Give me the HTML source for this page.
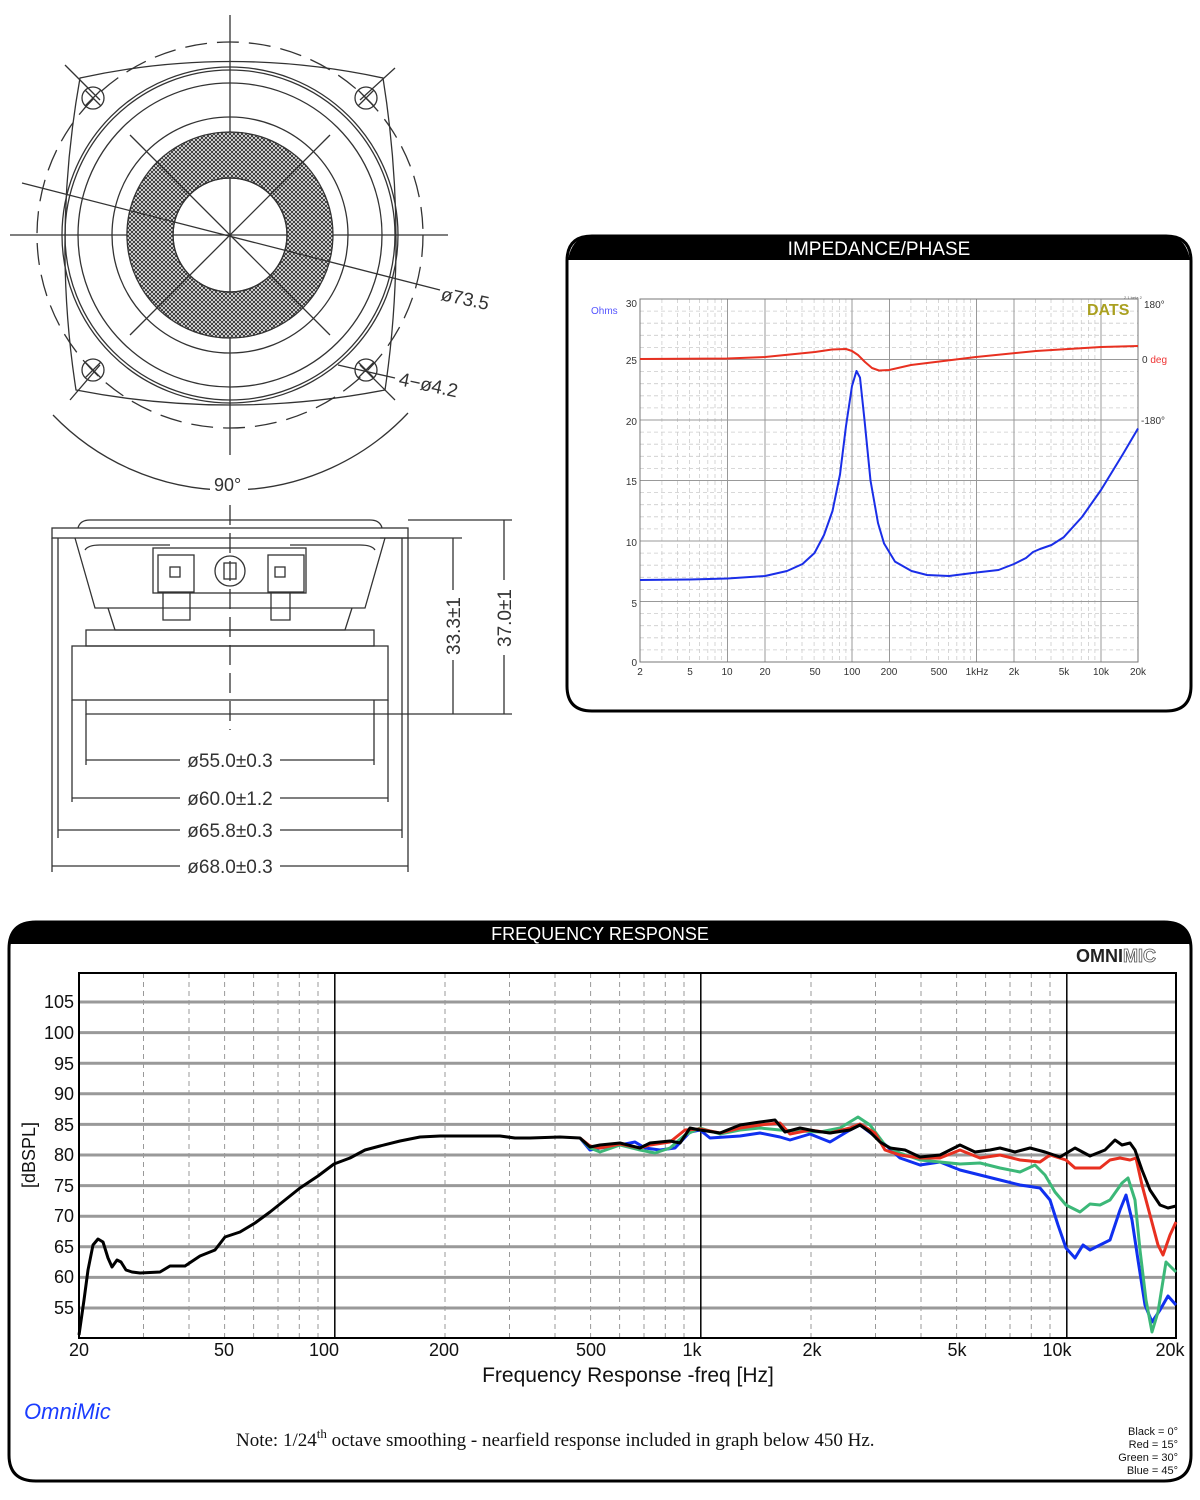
<!DOCTYPE html>
<html><head><meta charset="utf-8"><style>
html,body{margin:0;padding:0;background:#fff;width:1200px;height:1500px;overflow:hidden}
svg{display:block}
text{font-family:"Liberation Sans",sans-serif}
</style></head><body>
<svg width="1200" height="1500" viewBox="0 0 1200 1500" xmlns="http://www.w3.org/2000/svg">
<defs>
<pattern id="hatch" width="4" height="4" patternUnits="userSpaceOnUse">
<rect width="4" height="4" fill="#fff"/><path d="M0 0L4 4M4 0L0 4" stroke="#333" stroke-width="1"/>
</pattern>
</defs>

<!-- ===== Front view drawing ===== -->
<g fill="none" stroke="#333" stroke-width="1.3">
<line x1="230" y1="15" x2="230" y2="455"/>
<line x1="10" y1="235" x2="448" y2="235"/>
<circle cx="230" cy="235" r="193" stroke-dasharray="22,10"/>
<path d="M80 78 Q230 45 383 78 Q408 235 385 390 Q230 420 76 390 Q52 235 80 78 Z"/>
<line x1="65" y1="65" x2="100" y2="100"/><line x1="395" y1="68" x2="360" y2="100"/>
<line x1="70" y1="400" x2="100" y2="365"/><line x1="395" y1="400" x2="360" y2="365"/>
<circle cx="230" cy="235" r="168"/><circle cx="230" cy="235" r="165"/>
<circle cx="230" cy="235" r="152"/><circle cx="230" cy="235" r="118"/>
<path d="M230 132 A103 103 0 1 1 229.9 132 Z M230 178 A57 57 0 1 0 230.1 178 Z" fill="url(#hatch)" fill-rule="evenodd"/>
<circle cx="230" cy="235" r="57"/>
<line x1="130" y1="135" x2="330" y2="335"/><line x1="330" y1="135" x2="130" y2="335"/>
<line x1="22" y1="183" x2="440" y2="290"/>
<circle cx="93" cy="98" r="11"/><circle cx="366" cy="98" r="11"/><circle cx="93" cy="370" r="11"/><circle cx="366" cy="370" r="11"/>
<path d="M85 90L101 106M101 90L85 106M358 90L374 106M374 90L358 106M85 362L101 378M101 362L85 378M358 362L374 378M374 362L358 378"/>
<path d="M53 415 A245 245 0 0 0 408 413"/>
<line x1="338" y1="365" x2="395" y2="378"/>
</g>
<text x="440" y="300" font-size="19" fill="#333" transform="rotate(12 440 300)">ø73.5</text>
<text x="398" y="385" font-size="19" fill="#333" transform="rotate(12 398 385)">4−ø4.2</text>
<rect x="210" y="474" width="38" height="20" fill="#fff"/>
<text x="214" y="491" font-size="18" fill="#333">90°</text>

<!-- ===== Side view ===== -->
<g fill="none" stroke="#333" stroke-width="1.3">
<path d="M78 528 Q80 520 90 520 L370 520 Q380 520 382 528"/>
<rect x="52" y="528" width="356" height="10"/>
<path d="M75 538 L95 608 L365 608 L385 538"/>
<path d="M85 550 Q88 545 100 545 L170 545 M290 545 L360 545 Q372 545 375 550"/>
<rect x="153" y="548" width="153" height="45"/>
<rect x="158" y="555" width="36" height="37"/><rect x="268" y="555" width="36" height="37"/>
<rect x="170" y="567" width="10" height="10"/><rect x="275" y="567" width="10" height="10"/>
<circle cx="230" cy="571" r="15"/><rect x="224" y="563" width="12" height="16"/>
<path d="M163 592 L163 620 L190 620 L190 592 M271 592 L271 620 L290 620 L290 592"/>
<path d="M108 608 L115 630 L345 630 L352 608"/>
<rect x="86" y="630" width="288" height="16"/>
<rect x="72" y="646" width="316" height="54"/>
<path d="M86 700 L86 714 L374 714 L374 700"/>
<line x1="230" y1="505" x2="230" y2="730" stroke-dasharray="20,8"/>
<line x1="52" y1="538" x2="52" y2="872"/><line x1="408" y1="538" x2="408" y2="872"/>
<line x1="58" y1="538" x2="58" y2="838"/><line x1="402" y1="538" x2="402" y2="838"/>
<line x1="72" y1="700" x2="72" y2="802"/><line x1="388" y1="700" x2="388" y2="802"/>
<line x1="86" y1="714" x2="86" y2="765"/><line x1="374" y1="714" x2="374" y2="765"/>
<line x1="86" y1="760" x2="374" y2="760"/><line x1="72" y1="798" x2="388" y2="798"/>
<line x1="58" y1="830" x2="402" y2="830"/><line x1="52" y1="866" x2="408" y2="866"/>
<line x1="380" y1="538" x2="462" y2="538"/><line x1="408" y1="520" x2="512" y2="520"/>
<line x1="374" y1="714" x2="512" y2="714"/>
<line x1="453" y1="538" x2="453" y2="714"/><line x1="504" y1="520" x2="504" y2="714"/>
</g>
<g font-size="19" fill="#333" text-anchor="middle">
<rect x="180" y="750" width="100" height="20" fill="#fff"/><text x="230" y="767">ø55.0±0.3</text>
<rect x="180" y="788" width="100" height="20" fill="#fff"/><text x="230" y="805">ø60.0±1.2</text>
<rect x="180" y="820" width="100" height="20" fill="#fff"/><text x="230" y="837">ø65.8±0.3</text>
<rect x="180" y="856" width="100" height="20" fill="#fff"/><text x="230" y="873">ø68.0±0.3</text>
<rect x="443" y="590" width="20" height="70" fill="#fff"/><text transform="translate(460 626) rotate(-90)">33.3±1</text>
<rect x="494" y="580" width="20" height="75" fill="#fff"/><text transform="translate(511 618) rotate(-90)">37.0±1</text>
</g>

<!-- ===== Impedance box ===== -->
<path d="M592 236 L1166 236 Q1191 236 1191 261 L1191 686 Q1191 711 1166 711 L592 711 Q567 711 567 686 L567 261 Q567 236 592 236 Z" fill="#fff" stroke="#000" stroke-width="3"/>
<path d="M592 236 L1166 236 Q1186 236 1190 260 L568 260 Q572 236 592 236 Z" fill="#000"/>
<text x="879" y="255" font-size="19" fill="#fff" text-anchor="middle">IMPEDANCE/PHASE</text>
<g stroke="#ccc" stroke-width="0.8" stroke-dasharray="4,3">
<path d="M640 311.1H1138M640 323.2H1138M640 335.3H1138M640 347.4H1138M640 371.6H1138M640 383.7H1138M640 395.8H1138M640 407.9H1138M640 432.1H1138M640 444.2H1138M640 456.3H1138M640 468.4H1138M640 492.6H1138M640 504.7H1138M640 516.8H1138M640 528.9H1138M640 553.1H1138M640 565.2H1138M640 577.3H1138M640 589.4H1138M640 613.6H1138M640 625.7H1138M640 637.8H1138M640 649.9H1138"/>
<path d="M661.9 299V662M677.5 299V662M689.6 299V662M699.4 299V662M707.8 299V662M715 299V662M721.4 299V662M786.4 299V662M802 299V662M814.1 299V662M823.9 299V662M832.3 299V662M839.5 299V662M845.9 299V662M910.9 299V662M926.5 299V662M938.6 299V662M948.4 299V662M956.8 299V662M964 299V662M970.4 299V662M1035.4 299V662M1051 299V662M1063.1 299V662M1072.9 299V662M1081.3 299V662M1088.5 299V662M1094.9 299V662"/>
</g>
<g stroke="#999" stroke-width="1">
<path d="M640 359.5H1138M640 420H1138M640 480.5H1138M640 541H1138M640 601.5H1138"/>
<path d="M727.5 299V662M852 299V662M976.5 299V662M1101 299V662M765 299V662M889.5 299V662M1014 299V662"/>
</g>
<rect x="640" y="299" width="498" height="363" fill="none" stroke="#777" stroke-width="1"/>
<g font-size="10" fill="#333">
<text x="637" y="307" text-anchor="end">30</text><text x="637" y="364" text-anchor="end">25</text>
<text x="637" y="425" text-anchor="end">20</text><text x="637" y="485" text-anchor="end">15</text>
<text x="637" y="546" text-anchor="end">10</text><text x="637" y="607" text-anchor="end">5</text>
<text x="637" y="666" text-anchor="end">0</text>
<g text-anchor="middle"><text x="640" y="675">2</text><text x="690" y="675">5</text><text x="727" y="675">10</text><text x="765" y="675">20</text><text x="815" y="675">50</text><text x="852" y="675">100</text><text x="889" y="675">200</text><text x="939" y="675">500</text><text x="977" y="675">1kHz</text><text x="1014" y="675">2k</text><text x="1064" y="675">5k</text><text x="1101" y="675">10k</text><text x="1138" y="675">20k</text></g>
<text x="1144" y="308">180°</text><text x="1142" y="363">0 <tspan fill="#e33">deg</tspan></text><text x="1141" y="424">-180°</text>
<text x="591" y="314" fill="#55f">Ohms</text>
</g>
<text x="1087" y="315" font-size="16" font-weight="bold" fill="#aaa020">DATS</text>
<text x="1124" y="299" font-size="4" fill="#555">2.1 beta 2</text>
<polyline fill="none" stroke="#e83020" stroke-width="2" stroke-linejoin="round" points="640,359 727,358.5 765,357 815,352 832,349.5 846,349 852,351 858,355 865,362 872,368 879,370.5 889,370 911,365 976,357 1036,351 1101,347 1138,346"/>
<polyline fill="none" stroke="#1a2ee8" stroke-width="2" stroke-linejoin="round" points="640,580 690,579.5 727.5,578.5 765,576 787,571 802.5,564 814.5,553 824,535 832.5,511 840,474.5 846,426 852,386 856.5,371 860,377.6 864.5,420 870.5,480.5 878,523 884,543.4 895,561.6 911.5,571 927,575 949,576 976.5,572.5 998.5,570 1014,564 1026,558 1033,552 1040,549 1051.5,545 1063.5,537.4 1082,517 1101,490 1123,454 1138,428.5"/>

<!-- ===== Frequency response box ===== -->
<path d="M36 922 L1164 922 Q1191 922 1191 949 L1191 1455 Q1191 1481 1164 1481 L36 1481 Q9 1481 9 1455 L9 949 Q9 922 36 922 Z" fill="#fff" stroke="#000" stroke-width="3"/>
<path d="M36 922 L1164 922 Q1186 922 1190 944 L10 944 Q14 922 36 922 Z" fill="#000"/>
<text x="600" y="940" font-size="18" fill="#fff" text-anchor="middle">FREQUENCY RESPONSE</text>
<text x="1076" y="962" font-size="18" font-weight="bold" fill="#222">OMNI<tspan fill="#fff" stroke="#555" stroke-width="0.8">MIC</tspan></text>
<g stroke="#999" stroke-width="1" stroke-dasharray="5,4">
<path d="M143.5 973V1338M189 973V1338M224.6 973V1338M253.6 973V1338M278 973V1338M299.3 973V1338M318 973V1338M445 973V1338M509.5 973V1338M555 973V1338M590.6 973V1338M619.6 973V1338M644 973V1338M665.3 973V1338M684 973V1338M811 973V1338M875.5 973V1338M921 973V1338M956.6 973V1338M985.6 973V1338M1010 973V1338M1031.3 973V1338M1050 973V1338"/>
</g>
<g stroke="#999" stroke-width="3">
<path d="M79 1308H1176M79 1277.4H1176M79 1246.8H1176M79 1216.2H1176M79 1185.6H1176M79 1155H1176M79 1124.4H1176M79 1093.8H1176M79 1063.2H1176M79 1032.6H1176M79 1002H1176"/>
</g>
<g stroke="#000" stroke-width="1.5"><path d="M334.8 973V1338M700.8 973V1338M1066.8 973V1338"/></g>
<rect x="79" y="973" width="1097" height="365" fill="none" stroke="#000" stroke-width="2"/>
<g font-size="18" fill="#111">
<g text-anchor="end"><text x="74" y="1008">105</text><text x="74" y="1039">100</text><text x="74" y="1070">95</text><text x="74" y="1100">90</text><text x="74" y="1131">85</text><text x="74" y="1161">80</text><text x="74" y="1192">75</text><text x="74" y="1222">70</text><text x="74" y="1253">65</text><text x="74" y="1283">60</text><text x="74" y="1314">55</text></g>
<g text-anchor="middle"><text x="79" y="1356">20</text><text x="224" y="1356">50</text><text x="324" y="1356">100</text><text x="444" y="1356">200</text><text x="591" y="1356">500</text><text x="692" y="1356">1k</text><text x="812" y="1356">2k</text><text x="957" y="1356">5k</text><text x="1057" y="1356">10k</text><text x="1170" y="1356">20k</text></g>
<text x="628" y="1382" font-size="21" text-anchor="middle">Frequency Response -freq [Hz]</text>
<text transform="translate(35 1155) rotate(-90)" text-anchor="middle">[dBSPL]</text>
</g>
<text x="24" y="1419" font-size="22" font-style="italic" fill="#1a3cff">OmniMic</text>
<text x="236" y="1446" font-size="19" fill="#111" style="font-family:'Liberation Serif',serif">Note: 1/24<tspan dy="-8" font-size="13">th</tspan><tspan dy="8"> octave smoothing - nearfield response included in graph below 450 Hz.</tspan></text>
<g font-size="11" fill="#111" text-anchor="end"><text x="1178" y="1435">Black = 0°</text><text x="1178" y="1448">Red = 15°</text><text x="1178" y="1461">Green = 30°</text><text x="1178" y="1474">Blue = 45°</text></g>

<g fill="none" stroke-width="3" stroke-linejoin="round">
<polyline stroke="#1030f0" points="580,1138 590,1150 600,1148 620,1145 635,1142 645,1148 660,1150 675,1148 690,1132 700,1130 710,1138 740,1136 760,1133 780,1137 790,1140 810,1134 830,1142 850,1130 860,1125 880,1140 900,1158 920,1165 940,1162 960,1170 980,1175 1000,1180 1020,1185 1040,1188 1050,1200 1058,1225 1066,1248 1075,1258 1083,1245 1090,1250 1100,1245 1110,1240 1120,1210 1126,1195 1132,1220 1138,1260 1145,1305 1152,1322 1160,1310 1168,1296 1176,1305"/>
<polyline stroke="#3cb878" points="580,1138 590,1148 600,1152 620,1145 640,1150 655,1153 670,1148 685,1135 700,1128 720,1134 740,1130 760,1128 780,1130 800,1131 820,1132 840,1128 858,1117 870,1125 885,1145 900,1153 920,1160 940,1162 960,1164 980,1163 1000,1168 1020,1172 1035,1165 1045,1175 1055,1192 1066,1205 1080,1212 1090,1204 1100,1205 1110,1200 1122,1183 1128,1178 1135,1200 1140,1250 1146,1300 1152,1332 1158,1312 1166,1262 1176,1272"/>
<polyline stroke="#e83020" points="580,1138 590,1146 600,1148 620,1144 640,1148 650,1145 670,1142 685,1130 700,1129 720,1133 740,1128 760,1125 780,1123 790,1134 810,1130 830,1133 850,1128 860,1124 875,1133 885,1150 900,1155 920,1158 940,1158 960,1150 980,1158 1000,1155 1020,1160 1040,1162 1050,1155 1066,1160 1075,1168 1085,1168 1100,1168 1110,1160 1120,1158 1130,1160 1136,1158 1142,1185 1150,1215 1158,1245 1163,1255 1170,1235 1176,1222"/>
<polyline stroke="#000" points="79,1335 84,1300 88,1270 93,1245 98,1239 103,1242 108,1258 112,1267 117,1260 121,1262 126,1270 132,1272 140,1273 160,1272 170,1266 185,1266 200,1256 215,1250 225,1237 240,1232 255,1223 270,1212 285,1200 300,1188 318,1176 334,1164 350,1158 365,1150 380,1146 400,1141 420,1137 440,1136 470,1136 500,1136 515,1138 530,1138 560,1137 580,1138 590,1147 600,1145 620,1143 640,1148 650,1143 670,1141 680,1143 690,1128 700,1130 720,1133 740,1125 760,1122 775,1120 785,1132 800,1128 815,1131 830,1133 850,1130 860,1125 870,1132 880,1142 890,1148 905,1150 920,1157 940,1155 960,1145 975,1152 990,1150 1000,1148 1015,1152 1030,1148 1045,1152 1060,1157 1075,1148 1090,1156 1105,1150 1115,1140 1122,1145 1130,1143 1135,1150 1142,1170 1150,1190 1160,1205 1168,1208 1176,1206"/>
</g>
</svg>
</body></html>
